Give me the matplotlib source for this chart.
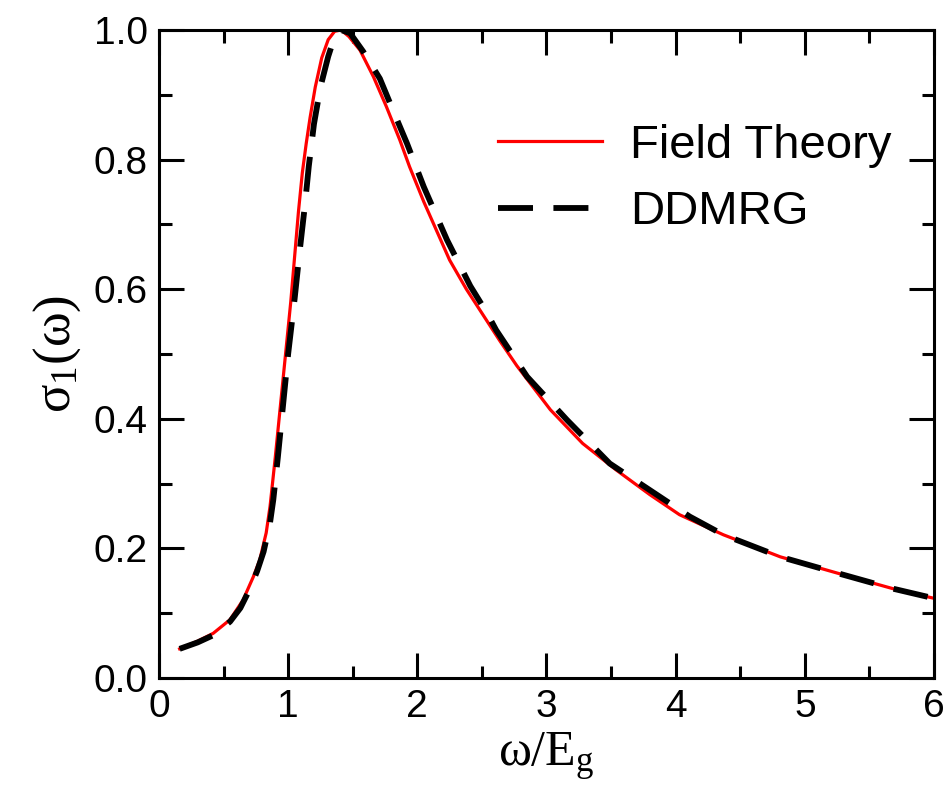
import matplotlib
matplotlib.use('Agg')
import matplotlib.pyplot as plt
from matplotlib.ticker import MultipleLocator

# Field theory curve
ft_x = [0.16, 0.30, 0.42, 0.55, 0.65, 0.73, 0.78, 0.83, 0.86, 0.90, 0.94, 0.98,
        1.02, 1.05, 1.08, 1.11, 1.14, 1.17, 1.21, 1.26, 1.31, 1.36, 1.41, 1.47,
        1.556, 1.66, 1.76, 1.865, 1.94, 2.05, 2.15, 2.25, 2.38, 2.51, 2.64, 2.77,
        3.03, 3.28, 3.54, 3.80, 4.03, 4.37, 4.81, 5.25, 5.68, 6.0]
ft_y = [0.045, 0.057, 0.069, 0.090, 0.120, 0.156, 0.182, 0.224, 0.265, 0.34, 0.42, 0.50,
        0.58, 0.65, 0.72, 0.78, 0.825, 0.865, 0.912, 0.957, 0.985, 0.998, 1.0, 0.99,
        0.969, 0.928, 0.882, 0.830, 0.789, 0.735, 0.69, 0.645, 0.60, 0.560, 0.52, 0.482,
        0.414, 0.362, 0.321, 0.283, 0.252, 0.221, 0.187, 0.162, 0.138, 0.123]

# DDMRG data
dm_x = [0.16, 0.30, 0.42, 0.55, 0.63, 0.70, 0.76, 0.81, 0.86, 0.885, 0.92, 0.96,
        1.00, 1.05, 1.09, 1.13, 1.16, 1.20, 1.25, 1.31, 1.36, 1.41, 1.48, 1.58,
        1.71, 1.81, 1.92, 1.99, 2.05, 2.23, 2.41, 2.54, 2.61, 2.85, 3.16, 3.49,
        3.80, 4.11, 4.37, 4.81, 5.25, 5.68, 6.0]
dm_y = [0.045, 0.055, 0.066, 0.087, 0.108, 0.136, 0.165, 0.195, 0.24, 0.275, 0.34, 0.42,
        0.50, 0.585, 0.66, 0.73, 0.79, 0.855, 0.912, 0.959, 0.99, 1.0, 0.995, 0.967,
        0.925, 0.877, 0.825, 0.789, 0.758, 0.676, 0.605, 0.563, 0.537, 0.465, 0.398, 0.331,
        0.290, 0.249, 0.221, 0.187, 0.162, 0.138, 0.123]

plt.rcParams['font.family'] = ['Liberation Sans', 'DejaVu Sans']
plt.rcParams['mathtext.fontset'] = 'custom'
plt.rcParams['mathtext.rm'] = 'Liberation Serif'
plt.rcParams['mathtext.it'] = 'Liberation Serif:italic'

fig = plt.figure(figsize=(9.48, 8.02), dpi=100)
ax = fig.add_axes([0.1677, 0.1546, 0.8175, 0.808])

ax.plot(ft_x, ft_y, color='#ff0000', lw=2.3, label='Field Theory', zorder=2)
ax.plot(dm_x, dm_y, color='black', lw=4.2, dashes=(6, 3.5), label='DDMRG', zorder=3)

ax.set_xlim(0, 6)
ax.set_ylim(0, 1.0)
ax.xaxis.set_major_locator(MultipleLocator(1))
ax.xaxis.set_minor_locator(MultipleLocator(0.5))
ax.yaxis.set_major_locator(MultipleLocator(0.2))
ax.yaxis.set_minor_locator(MultipleLocator(0.1))
ax.set_yticklabels(['%.1f' % v for v in ax.get_yticks()])
ax.tick_params(which='both', direction='in', top=True, right=True, width=2.2, labelsize=28)
ax.tick_params(which='major', length=18, pad=8)
ax.tick_params(which='minor', length=9)
for s in ax.spines.values():
    s.set_linewidth(2.2)

ax.set_xlabel(r'$\mathrm{ω/E_g}$', fontsize=36, labelpad=4)
ax.set_ylabel(r'$\mathrm{σ_1(ω)}$', fontsize=38, labelpad=8)

ax.legend(loc='upper left', bbox_to_anchor=(0.437, 0.855), frameon=False,
          fontsize=34, handlelength=2.2, handletextpad=0.6, labelspacing=0.47,
          borderpad=0, borderaxespad=0)

fig.savefig('out.png', dpi=100)
